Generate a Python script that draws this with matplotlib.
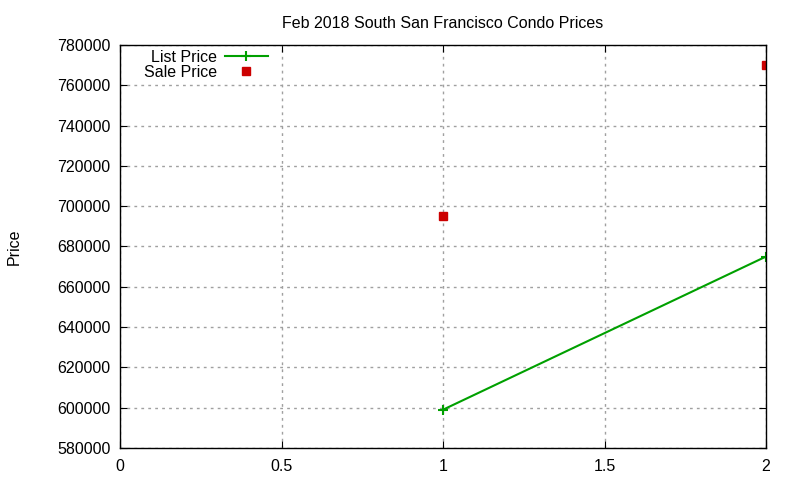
import matplotlib
matplotlib.use('Agg')
import matplotlib.pyplot as plt

# dados
list_x = [1, 2]
list_price = [599000, 675000]
sale_x = [1, 2]
sale_price = [695000, 770000]
xticks = [0, 0.5, 1, 1.5, 2]
xtick_labels = ['0', '0.5', '1', '1.5', '2']
yticks = list(range(580000, 780001, 20000))

plt.rcParams['font.family'] = ['Liberation Sans', 'DejaVu Sans']
plt.rcParams['font.size'] = 11.5

fig = plt.figure(figsize=(8, 4.8), dpi=100)
ax = fig.add_axes([0.15, 0.0667, 0.8075, 0.8396])

ax.plot(list_x, list_price, color='#00a000', linewidth=1.5, marker='+',
        markersize=7, markeredgewidth=1.5, label='List Price')
ax.plot(sale_x, sale_price, linestyle='none', color='#cc0000', marker='s',
        markersize=6, label='Sale Price')

ax.set_xlim(0, 2)
ax.set_ylim(580000, 780000)
ax.set_xticks(xticks)
ax.set_xticklabels(xtick_labels)
ax.set_yticks(yticks)
ax.set_yticklabels([str(v) for v in yticks])
ax.tick_params(direction='in', top=True, right=True, length=5, colors='black')
ax.tick_params(axis='y', pad=7)
ax.tick_params(axis='x', pad=8)
ax.grid(True, color='#a0a0a0', linestyle=(0, (2, 3)), linewidth=1)
ax.set_axisbelow(True)
for s in ax.spines.values():
    s.set_linewidth(1)

ax.set_title('Feb 2018 South San Francisco Condo Prices', fontsize=11.5, pad=12)
ax.set_ylabel('Price')
ax.yaxis.set_label_coords(-0.152, 0.5)

leg = ax.legend(loc='upper right', frameon=False, markerfirst=False,
                handlelength=2.7, borderaxespad=0, labelspacing=0.0,
                bbox_to_anchor=(0.239, 1.004), handletextpad=0.5)

fig.savefig('out.png', dpi=100)
